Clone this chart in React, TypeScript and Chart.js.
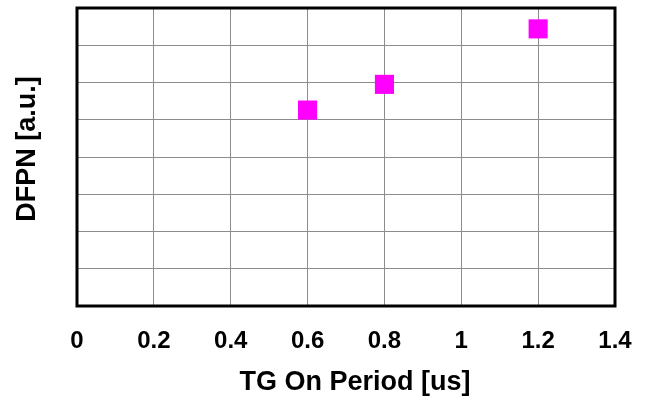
import React, { useEffect, useRef } from "react";
import { Chart, registerables } from "chart.js";

Chart.register(...registerables);

const tgOnPeriod = [0.6, 0.8, 1.2];
const dfpn = [5.26, 5.95, 7.44];
const xTickValues = [0, 0.2, 0.4, 0.6, 0.8, 1, 1.2, 1.4];

const FONT = "'Liberation Sans', Arial, sans-serif";

const framePlugin = {
  id: "frame",
  beforeDraw(chart: any) {
    const shifts: Record<string, [number, number]> = { x: [9, 0], y: [0, -8] };
    Object.keys(shifts).forEach((id) => {
      const s = chart.scales[id];
      if (s && !s.__patched) {
        const orig = s.drawTitle.bind(s);
        s.drawTitle = (...args: any[]) => {
          const c = chart.ctx;
          c.save();
          c.translate(shifts[id][0], shifts[id][1]);
          orig(...args);
          c.restore();
        };
        s.__patched = true;
      }
    });
  },
  afterDraw(chart: any) {
    const { ctx, chartArea } = chart;
    ctx.save();
    ctx.strokeStyle = "#000";
    ctx.lineWidth = 3;
    ctx.strokeRect(
      chartArea.left,
      chartArea.top,
      chartArea.right - chartArea.left,
      chartArea.bottom - chartArea.top
    );
    ctx.restore();
  },
};

export default function App() {
  const ref = useRef<HTMLCanvasElement>(null);
  useEffect(() => {
    document.body.style.margin = "0";
    const chart = new Chart(ref.current as HTMLCanvasElement, {
      type: "scatter",
      data: {
        datasets: [
          {
            data: tgOnPeriod.map((x, i) => ({ x, y: dfpn[i] })),
            pointStyle: "rect",
            pointRadius: 13.5,
            pointHoverRadius: 13.5,
            backgroundColor: "#FF00FF",
            borderColor: "#FF00FF",
            borderWidth: 0,
          },
        ],
      },
      options: {
        animation: false,
        responsive: false,
        devicePixelRatio: 1,
        layout: { autoPadding: false, padding: { top: 8, right: 34, left: 0, bottom: 0 } },
        plugins: { legend: { display: false }, tooltip: { enabled: false } },
        scales: {
          x: {
            type: "linear",
            min: 0,
            max: 1.4,
            afterBuildTicks: (s: any) => {
              s.ticks = xTickValues.map((v) => ({ value: v }));
            },
            afterFit: (s: any) => {
              s.height = 99;
              s.paddingLeft = 0;
              s.paddingRight = 0;
            },
            grid: { color: "#8c8c8c", lineWidth: 1, drawTicks: false },
            border: { display: false },
            ticks: {
              color: "#000",
              padding: 21,
              maxRotation: 0,
              autoSkip: false,
              font: { family: FONT, size: 24, weight: "bold" },
              callback: (v: any) => String(Math.round(Number(v) * 10) / 10),
            },
            title: {
              display: true,
              text: "TG On Period [us]",
              color: "#000",
              font: { family: FONT, size: 27, weight: "bold" },
              padding: { top: 0, bottom: 6 },
            },
          },
          y: {
            type: "linear",
            min: 0,
            max: 8,
            afterFit: (s: any) => {
              s.width = 77;
              s.paddingTop = 0;
              s.paddingBottom = 0;
            },
            grid: { color: "#8c8c8c", lineWidth: 1, drawTicks: false },
            border: { display: false },
            ticks: { display: false, stepSize: 1 },
            title: {
              display: true,
              text: "DFPN [a.u.]",
              color: "#000",
              font: { family: FONT, size: 27, weight: "bold" },
              padding: { top: 11, bottom: 0 },
            },
          },
        },
      },
      plugins: [framePlugin],
    });
    return () => chart.destroy();
  }, []);
  return <canvas ref={ref} width={649} height={405} style={{ display: "block" }} />;
}
